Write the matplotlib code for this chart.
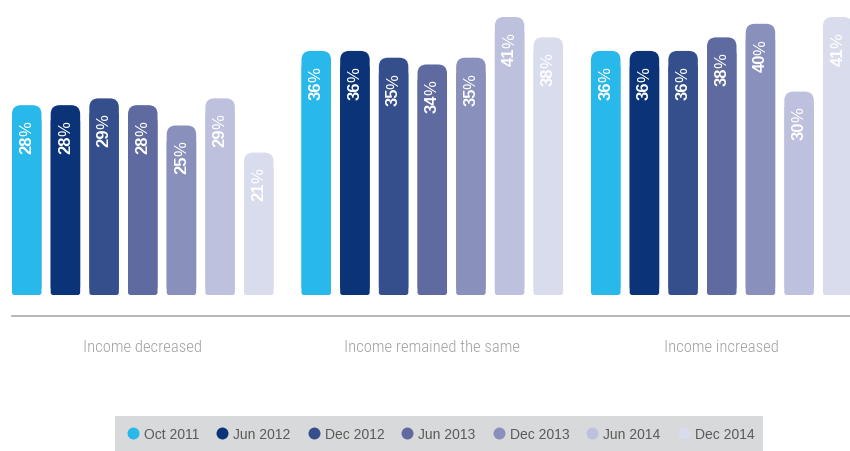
import matplotlib
matplotlib.use("Agg")
import matplotlib.pyplot as plt
from matplotlib.patches import FancyBboxPatch, Rectangle
from matplotlib.lines import Line2D

# Survey waves and answer groups
categories = ["Income decreased", "Income remained the same", "Income increased"]
waves = ["Oct 2011", "Jun 2012", "Dec 2012", "Jun 2013", "Dec 2013", "Jun 2014", "Dec 2014"]
decreased = [28, 28, 29, 28, 25, 29, 21]
same = [36, 36, 35, 34, 35, 41, 38]
increased = [36, 36, 36, 38, 40, 30, 41]
series = [decreased, same, increased]

colors = ["#29b8ea", "#0b3378", "#354e8c", "#5f6ba0", "#8990bb", "#bdc1dd", "#d9dced"]

W, H = 850, 452
fig = plt.figure(figsize=(W / 100, H / 100), dpi=100)

# Axes spanning the plotting band; x measured in pixels, y in percent
px_per_pct = 6.78
ax_left_px, ax_right_px = 12, 850
ax_bottom_px = 317          # baseline rule position (from top)
zero_px = 296               # where bars start (from top)
ax = fig.add_axes([ax_left_px / W, (H - ax_bottom_px) / H,
                   (ax_right_px - ax_left_px) / W, ax_bottom_px / H])
ymin = -(ax_bottom_px - zero_px) / px_per_pct
ymax = zero_px / px_per_pct
ax.set_xlim(ax_left_px, ax_right_px)
ax.set_ylim(ymin, ymax)

slot = 38.67
group_gap = 289.5
bar_w = 29.5
first_center = 12 + bar_w / 2

for s in ["top", "right", "left"]:
    ax.spines[s].set_visible(False)
ax.spines["bottom"].set_color("#a9a9a9")
ax.spines["bottom"].set_linewidth(1.2)
ax.set_yticks([])

aspect = 1.0 / px_per_pct
r_top, r_bot = 9.0, 2.5

for g, vals in enumerate(series):
    xs = [first_center + g * group_gap + i * slot for i in range(len(waves))]
    bars = ax.bar(xs, vals, width=bar_w, color=colors)
    for i, rect in enumerate(bars):
        x0, y0 = rect.get_x(), rect.get_y()
        w, h = rect.get_width(), rect.get_height()
        rect.set_visible(False)
        # rounded top corners, slightly rounded bottom corners
        ax.add_patch(FancyBboxPatch((x0, y0), w, h,
                                    boxstyle=f"round,pad=0,rounding_size={r_top}",
                                    mutation_aspect=aspect, fc=colors[i], ec="none"))
        ax.add_patch(FancyBboxPatch((x0, y0), w, h - 14 / px_per_pct,
                                    boxstyle=f"round,pad=0,rounding_size={r_bot}",
                                    mutation_aspect=aspect, fc=colors[i], ec="none"))
        cx = x0 + w / 2
        top = y0 + h
        ax.annotate("%", (cx, top), xytext=(0, -10.8), textcoords="offset points",
                    rotation=90, ha="center", va="top", color="white",
                    fontsize=12, family="Liberation Sans")
        ax.annotate(f"{vals[i]}", (cx, top), xytext=(0, -21.0), textcoords="offset points",
                    rotation=90, ha="center", va="top", color="white",
                    fontsize=12, fontweight="bold", family="Liberation Sans")

centers = [first_center + g * group_gap + 3 * slot for g in range(len(categories))]
ax.set_xticks(centers)
ax.set_xticklabels(categories, color="#a0a0a0", fontsize=12, fontweight="light",
                   family=["Roboto Condensed", "Roboto", "DejaVu Sans"])
ax.tick_params(axis="x", length=0, pad=16.5)

# Legend strip
fig.patches.append(Rectangle((115 / W, 0), (763 - 115) / W, (H - 417) / H,
                             transform=fig.transFigure, fc="#d8d9da", ec="none", zorder=0))
handles = [Line2D([], [], linestyle="none", marker="o", markersize=8.6,
                  markerfacecolor=c, markeredgecolor="none") for c in colors]
leg = fig.legend(handles, waves, loc="center", ncol=len(waves),
                 bbox_to_anchor=(440 / W, (H - 435) / H), frameon=False,
                 handlelength=1.0, handletextpad=0.3, columnspacing=1.15,
                 borderpad=0, prop={"family": "Liberation Sans", "size": 10})
for t in leg.get_texts():
    t.set_color("#5a5a5a")

fig.savefig("out.png", dpi=100)
